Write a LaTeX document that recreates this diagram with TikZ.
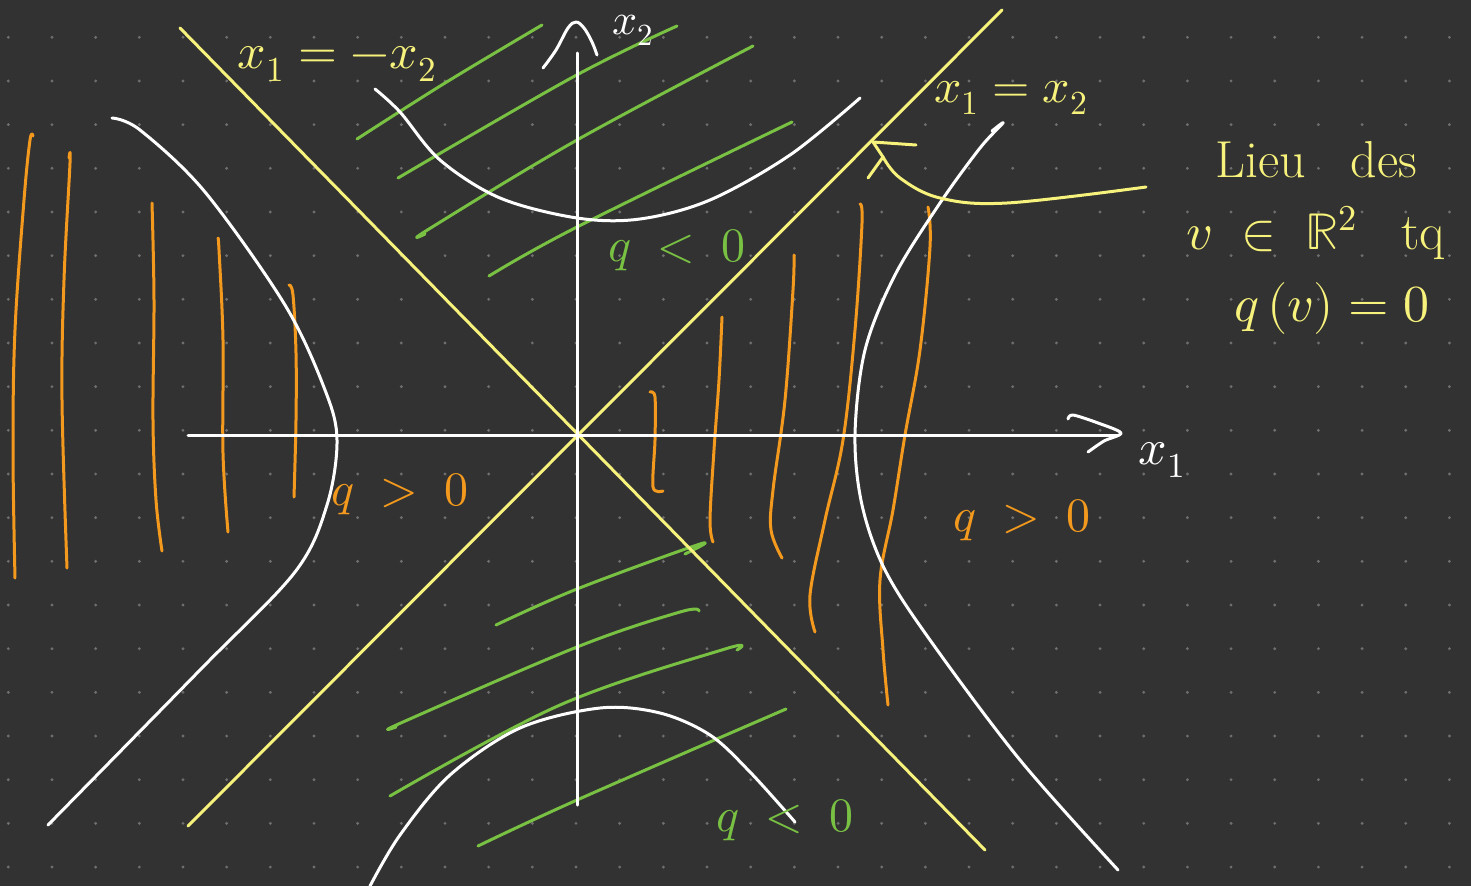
\documentclass[tikz,border=0pt]{standalone}
\usepackage{unicode-math}
\definecolor{bg}{HTML}{323232}
\definecolor{dotc}{HTML}{6E6E6E}
\definecolor{hyellow}{HTML}{F7F27C}
\definecolor{hgreen}{HTML}{79C143}
\definecolor{horange}{HTML}{F39A1E}
\begin{document}
\begin{tikzpicture}[x=1pt,y=-1pt,
  hw/.style={line width=3pt,line cap=round,line join=round},
  wline/.style={hw,draw=white},
  yline/.style={hw,draw=hyellow},
  gline/.style={hw,draw=hgreen},
  oline/.style={hw,draw=horange},
  lab/.style={inner sep=0pt,font=\fontsize{48}{52}\selectfont},
  big/.style={inner sep=0pt,font=\fontsize{50}{54}\selectfont}]
\fill[bg] (0,0) rectangle (1471,886);
\useasboundingbox (0,0) rectangle (1471,886);
% dot grid
\foreach \i in {0,...,33}{
  \foreach \j in {0,...,19}{
    \fill[dotc] ({8.3+43.67*\i},{37.3+43.67*\j}) circle[radius=1.6pt];
  }
}
% green hatching, upper region
\draw[gline] plot[smooth,tension=0.6] coordinates {(357,139) (445,83) (542,25)};
\draw[gline] plot[smooth,tension=0.6] coordinates {(398,178) (573,77) (677,26)};
\draw[gline] plot[smooth,tension=0.6] coordinates {(425,234) (429,229) (577,140) (753,46)};
\draw[gline] plot[smooth,tension=0.6] coordinates {(489,276) (577,227) (792,122)};
% green hatching, lower region
\draw[gline] plot[smooth,tension=0.6] coordinates {(496,625) (577,589) (700,544) (685,554)};
\draw[gline] plot[smooth,tension=0.6] coordinates {(396,727) (403,722) (577,647) (680,612) (699,611)};
\draw[gline] plot[smooth,tension=0.6] coordinates {(390,796) (560,705) (725,649) (737,650)};
\draw[gline] plot[smooth,tension=0.6] coordinates {(478,846) (577,800) (786,709)};
% orange hatching, left region
\draw[oline] plot[smooth,tension=0.6] coordinates {(33,136) (30,140) (24,200) (15,330) (13,450) (15,578)};
\draw[oline] plot[smooth,tension=0.6] coordinates {(69,158) (70,163) (64,280) (62,400) (67,568)};
\draw[oline] plot[smooth,tension=0.6] coordinates {(152,203) (154,300) (153,420) (156,500) (162,551)};
\draw[oline] plot[smooth,tension=0.6] coordinates {(218,239) (219,250) (223,340) (223,453) (228,532)};
\draw[oline] plot[smooth,tension=0.6] coordinates {(289,285) (293,295) (296,353) (296,420) (294,497)};
% orange hatching, right region
\draw[oline] plot[smooth,tension=0.5] coordinates {(650,392) (655,397) (655,440) (653,487) (663,491)};
\draw[oline] plot[smooth,tension=0.6] coordinates {(722,317) (719,380) (714,450) (710,520) (713,542)};
\draw[oline] plot[smooth,tension=0.6] coordinates {(794,255) (793,290) (785,400) (773,490) (771,530) (782,558)};
\draw[oline] plot[smooth,tension=0.6] coordinates {(860,204) (862,223) (855,330) (843,440) (825,520) (810,595) (815,632)};
\draw[oline] plot[smooth,tension=0.6] coordinates {(928,207) (930,247) (920,350) (905,435) (893,510) (880,580) (883,650) (888,705)};
% asymptotes
\coordinate (a1) at (188,826); \coordinate (a2) at (1002,10);
\coordinate (b1) at (180,28);  \coordinate (b2) at (985,850);
\draw[yline] (a1) -- (a2);
\draw[yline] (b1) -- (b2);
% axes
\coordinate (x1s) at (188,435); \coordinate (x1e) at (1118,435);
\coordinate (x2s) at (577,805); \coordinate (x2e) at (577,53);
\draw[wline] (x1s) -- (x1e);
\draw[wline] (x2s) -- (x2e);
\draw[wline] plot[smooth,tension=0.5] coordinates {(1068,419) (1073,415) (1098,423) (1121,433) (1104,441) (1088,452)};
\draw[wline] plot[smooth,tension=0.6] coordinates {(543,68) (556,50) (568,28) (576,22) (584,28) (592,42) (597,55)};
% hyperbolas
\draw[wline] plot[smooth,tension=0.55] coordinates {(112,118) (140,130) (205,192) (285,305) (325,390) (337,440) (327,505) (295,572) (200,670) (48,825)};
\draw[wline] plot[smooth,tension=0.55] coordinates {(992,131) (1003,123) (980,148) (940,203) (895,275) (865,350) (855,435) (862,505) (885,570) (930,640) (1020,760) (1118,870)};
\draw[wline] plot[smooth,tension=0.55] coordinates {(375,89) (400,112) (440,160) (500,198) (577,218) (640,219) (710,200) (790,155) (860,98)};
\draw[wline] plot[smooth,tension=0.55] coordinates {(370,886) (400,835) (450,775) (520,728) (600,708) (660,713) (710,735) (750,772) (795,822)};
% labels
\node[text=white,inner sep=0pt,font=\fontsize{44}{48}\selectfont,anchor=north] (lx2) at (633,15) {$x_2$};
\node[big,text=white] (lx1) at (1162,460) {$x_1$};
\node[big,text=hyellow] (lanti) at (337,64) {$x_1=-x_2$};
\node[lab,text=hyellow] (ldiag) at (1011,98) {$x_1=x_2$};
\node[lab,text=hgreen] (qn1) at (677,250) {$q\;<\;0$};
\node[lab,text=hgreen] (qn2) at (785,820) {$q\;<\;0$};
\node[lab,text=horange] (qp1) at (400,494) {$q\;>\;0$};
\node[lab,text=horange] (qp2) at (1022,520) {$q\;>\;0$};
\node[big,text=hyellow,align=center,font=\fontsize{52}{72}\selectfont] (locus) at (1316,238)
  {Lieu\;\; des\\$v\;\in\;\mathbb{R}^2$\;\; tq\\\hspace*{0.6em}$q\,(v)=0$};
% annotation arrow
\coordinate (as) at (1146,187);
\coordinate (tip) at (873,142);
\coordinate (bend) at (883,157);
\draw[yline] plot[smooth,tension=0.6] coordinates {(as) (1007,203) (940,198) (900,178) (bend)};
\draw[yline] (916,145) -- (tip) -- (bend) -- (868,178);
\end{tikzpicture}
\end{document}
